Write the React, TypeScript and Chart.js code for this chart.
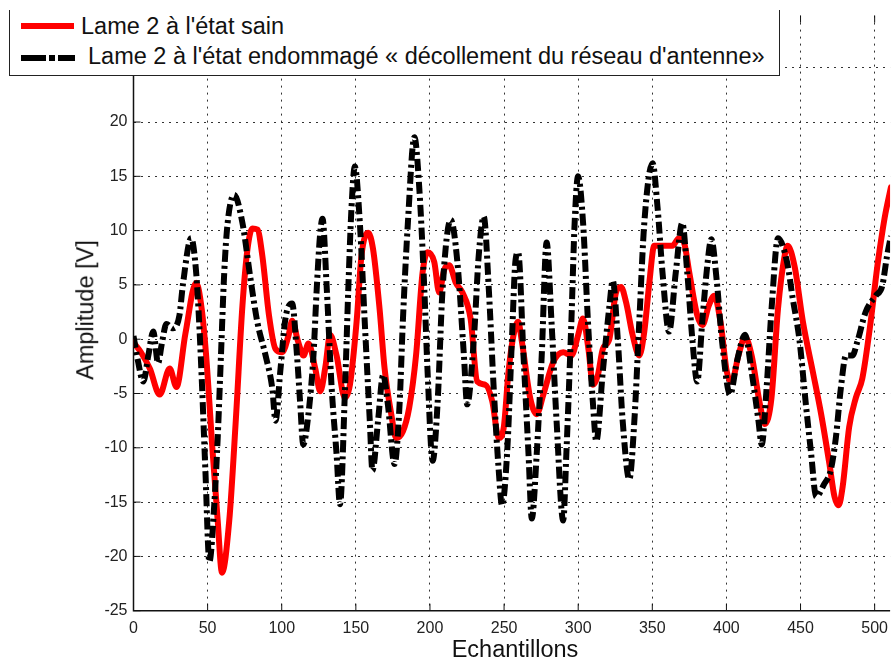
import React, { useEffect, useRef } from "react";
import { Chart, registerables } from "chart.js";

Chart.register(...registerables);

// ---- data ----
const redX = [0, 5, 11, 17.7, 24.4, 29, 35, 42.3, 46, 49, 53.5, 56.8, 59.7, 64.6, 69, 73.5, 76.9, 80.2, 83.6, 86.9, 91.4, 95.8, 100.3, 104.7, 107, 111, 114.7, 118, 122.6, 126, 129.5, 132.6, 137, 142.6, 146, 150.5, 153.8, 158.3, 161.6, 166, 169.4, 173.9, 177.2, 181.7, 186, 190.6, 195, 198.4, 202.9, 206.2, 209.6, 213, 217.4, 221.9, 227.4, 231.9, 237.4, 242, 246.4, 249.7, 253, 256.4, 259.5, 262, 267.6, 272, 276.5, 283.2, 289.9, 295.4, 300, 303.2, 306.9, 310, 313.3, 316.6, 321, 325.5, 328.9, 332.3, 336.7, 341.2, 344.6, 348, 351.3, 356.9, 363.5, 368, 371.4, 375, 380.3, 383.8, 388.1, 391.8, 396, 400.3, 403.6, 408.1, 412.6, 417, 422.6, 425.9, 430.4, 434.8, 439.3, 441.3, 446, 451.6, 458.3, 463.9, 469.5, 472.9, 475.7, 478.4, 482.8, 487.3, 491.7, 497.3, 501.8, 505.1, 507.3, 511];
const redY = [-0.3, -1.2, -2.7, -5.1, -2.7, -4.4, 0.5, 5.2, 2.8, -1.5, -10.6, -16.7, -21.5, -16.7, -7.5, 3.1, 8.3, 10.2, 10.1, 7.7, 2.2, -0.9, -1.2, 0.4, 1.7, -0.2, -1.5, -0.4, -2.7, -4.8, -2.5, 0.4, -1.5, -5.4, -4.2, 1.6, 7.7, 9.8, 8.3, 2.8, -2.7, -6.9, -9.1, -8.5, -6.3, -1.5, 6.1, 8.0, 7.1, 4.3, 6.4, 6.8, 5.2, 4.3, 1.9, -3.9, -4.2, -5.7, -9.1, -8.2, -3.0, 0.4, 1.6, -0.2, -5.4, -6.9, -5.1, -2.1, -1.2, -1.5, 0.4, 1.9, -0.9, -4.2, -3.3, -0.9, 0, 4.3, 4.8, 3.4, 0.4, -1.5, 0.7, 5.2, 8.6, 8.6, 8.6, 9.3, 8.9, 6.1, 2.2, 1.3, 3.1, 4.0, 1.6, -3.0, -3.9, -1.5, 0.2, -1.5, -6.0, -7.8, -5.4, 2.8, 7.7, 8.6, 6.7, 1.6, -3.0, -6.9, -11.5, -14.5, -15.3, -13.6, -8.1, -5.4, -3.6, 1.6, 6.7, 9.8, 11.6, 14.0];

const blackX = [0, 3, 6.6, 10, 13.3, 16.6, 19, 22.2, 26.7, 31, 33.3, 38.9, 42.3, 44.5, 46.3, 48.5, 51.2, 54.5, 56.8, 59, 61.2, 63.5, 67.9, 73.5, 79, 83.5, 89.1, 93.6, 95.8, 99, 102.5, 107, 110.3, 112.5, 114.5, 118, 121.4, 123.6, 125.8, 127.5, 130.4, 133.7, 137, 139.3, 142.7, 144.9, 147.1, 149.3, 152.7, 156, 159.4, 161.2, 165, 168.4, 171.6, 176.1, 179.5, 181.7, 185.1, 189.5, 192.9, 196.2, 198.4, 201.8, 205.1, 208.5, 214, 218.5, 222.9, 225.1, 229.6, 232.9, 236.3, 239.7, 243, 246.4, 248.6, 252, 255.3, 257.6, 259.5, 263.1, 266.5, 268.7, 272, 275.4, 278.7, 282, 285.4, 289.9, 292, 295.4, 297.6, 299.9, 303.3, 306.6, 310, 312.2, 316.6, 321.1, 323.3, 326.7, 330, 334.5, 337.9, 341.2, 344.6, 350.2, 353.5, 356.9, 361.3, 365.8, 370.2, 373.6, 377, 380.3, 383.7, 387.1, 389.8, 393.6, 396.9, 402.5, 407, 412.6, 417, 421.6, 423.8, 427.1, 430.6, 434.8, 440.9, 444.8, 449.2, 453.6, 457.2, 460.5, 466.1, 470.3, 473.8, 477.2, 480.7, 485, 488.4, 493.9, 500.7, 505.1, 508.4, 511];
const blackY = [0.3, -2.0, -3.9, -1.5, 0.7, -2.2, -0.5, 1.4, 1.0, 2.2, 5.0, 9.3, 6.1, 1.0, -4.5, -12.1, -20.5, -15.2, -9.1, -1.5, 6.1, 10.7, 13.3, 10.7, 5.5, 1.6, -1.5, -4.5, -7.5, -3.0, 1.9, 3.3, -1.5, -6.0, -9.7, -6.9, -1.5, 4.6, 9.5, 11.1, 4.6, -4.5, -10.6, -15.2, -4.5, 4.6, 12.2, 15.9, 10.7, 1.6, -7.5, -12.1, -7.5, -3.3, -6.0, -11.5, -6.0, 1.6, 10.7, 18.6, 13.7, 4.6, -3.0, -11.2, -6.0, 4.6, 11.0, 7.1, -1.5, -6.0, 0, 7.7, 11.3, 4.6, -4.5, -12.1, -15.3, -10.6, 0, 7.1, 8.0, -1.5, -10.6, -16.5, -10.6, -1.5, 8.9, 1.6, -7.5, -16.7, -10.6, 1.6, 10.7, 15.0, 10.7, 1.6, -6.0, -9.4, -3.0, 3.1, 5.4, 0, -7.5, -12.9, -7.5, 1.6, 10.7, 16.2, 12.2, 6.1, 0.7, 6.1, 10.7, 6.1, 0, -3.9, 1.6, 6.8, 9.2, 5.2, 0, -5.1, -2.1, 0.4, -3.0, -7.5, -9.7, -4.5, 3.1, 9.3, 7.1, 3.7, 0, -6.0, -10.6, -14.5, -13.3, -12.1, -9.1, -4.5, -1.5, -1.5, -0.2, 2.5, 4.0, 4.9, 7.7, 9.5];

const xTicks = [0, 50, 100, 150, 200, 250, 300, 350, 400, 450, 500];
const yTicks = [-25, -20, -15, -10, -5, 0, 5, 10, 15, 20, 25];

const redLabel = "Lame 2 à l'état sain";
const blackLabel = "Lame 2 à l'état endommagé « décollement du réseau d'antenne»";
const xTitle = "Echantillons";
const yTitle = "Amplitude [V]";

const FONT = "'Liberation Sans', Arial, Helvetica, sans-serif";

const axesPlugin = {
  id: "matlabAxes",
  beforeDatasetsDraw(chart: any) {
    const { ctx, chartArea, scales } = chart;
    const { left, right, top, bottom } = chartArea;
    ctx.save();
    ctx.strokeStyle = "#111";
    ctx.lineWidth = 1.5;
    ctx.beginPath();
    ctx.moveTo(left, top);
    ctx.lineTo(left, bottom);
    ctx.lineTo(right, bottom);
    ctx.stroke();
    ctx.lineWidth = 1;
    ctx.beginPath();
    for (const v of xTicks) {
      const px = scales.x.getPixelForValue(v);
      ctx.moveTo(px, bottom);
      ctx.lineTo(px, bottom - 7);
      ctx.moveTo(px, top);
      ctx.lineTo(px, top + 7);
    }
    for (const v of yTicks) {
      const py = scales.y.getPixelForValue(v);
      ctx.moveTo(left, py);
      ctx.lineTo(left + 7, py);
    }
    ctx.stroke();
    ctx.restore();
  },
};

export default function App() {
  const canvasRef = useRef<HTMLCanvasElement | null>(null);

  useEffect(() => {
    if (!canvasRef.current) return;
    const chart = new Chart(canvasRef.current, {
      type: "line",
      data: {
        datasets: [
          {
            label: redLabel,
            data: redX.map((x, i) => ({ x, y: redY[i] })),
            borderColor: "#ff0000",
            borderWidth: 6,
            pointRadius: 0,
            cubicInterpolationMode: "monotone",
            borderJoinStyle: "round",
            borderCapStyle: "round",
            fill: false,
            order: 2,
          },
          {
            label: blackLabel,
            data: blackX.map((x, i) => ({ x, y: blackY[i] })),
            borderColor: "#000000",
            borderWidth: 6,
            borderDash: [12, 4, 3, 4],
            pointRadius: 0,
            cubicInterpolationMode: "monotone",
            fill: false,
            order: 1,
          },
        ],
      },
      options: {
        animation: false,
        responsive: false,
        layout: { padding: { left: 0, top: 10, right: 0, bottom: 0 } },
        plugins: { legend: { display: false }, tooltip: { enabled: false } },
        scales: {
          x: {
            type: "linear",
            min: 0,
            max: 510.4,
            afterBuildTicks: (axis: any) => {
              axis.ticks = xTicks.map((v) => ({ value: v }));
            },
            afterFit: (s: any) => {
              s.height = 53.3;
            },
            grid: { color: "#333", lineWidth: 1, drawTicks: false },
            border: { display: false, dash: [2, 5] },
            ticks: {
              autoSkip: false,
              maxRotation: 0,
              padding: 8,
              color: "#222",
              font: { family: FONT, size: 16 },
            },
          },
          y: {
            type: "linear",
            min: -25,
            max: 29.8,
            afterBuildTicks: (axis: any) => {
              axis.ticks = yTicks.map((v) => ({ value: v }));
            },
            afterFit: (s: any) => {
              s.width = 133.5;
            },
            grid: { color: "#333", lineWidth: 1, drawTicks: false },
            border: { display: false, dash: [2, 5] },
            ticks: {
              padding: 6,
              color: "#222",
              font: { family: FONT, size: 16 },
            },
          },
        },
      },
      plugins: [axesPlugin],
    } as any);
    return () => chart.destroy();
  }, []);

  const text: React.CSSProperties = {
    position: "absolute",
    fontFamily: FONT,
    fontSize: 23.5,
    lineHeight: "23.5px",
    color: "#111",
    whiteSpace: "nowrap",
  };

  return (
    <div style={{ position: "absolute", left: 0, top: 0, width: 896, height: 664, background: "#fff", overflow: "hidden" }}>
      <canvas ref={canvasRef} width={896} height={664} style={{ position: "absolute", left: 0, top: 0, width: 896, height: 664 }} />
      {/* legend */}
      <div
        style={{
          position: "absolute",
          left: 9,
          top: 10,
          width: 771,
          height: 66,
          boxSizing: "border-box",
          background: "#fff",
          borderLeft: "1.5px solid #222",
          borderRight: "1.5px solid #222",
          borderBottom: "1.5px solid #222",
        }}
      >
        <div style={{ position: "absolute", left: 11, top: 13, width: 53, height: 6, background: "#ff0000" }} />
        <div style={{ ...text, left: 71, top: 5 }}>{redLabel}</div>
        <div style={{ position: "absolute", left: 11, top: 45, width: 25, height: 6, background: "#000" }} />
        <div style={{ position: "absolute", left: 39, top: 45, width: 6, height: 6, background: "#000" }} />
        <div style={{ position: "absolute", left: 48, top: 45, width: 17, height: 6, background: "#000" }} />
        <div style={{ ...text, left: 78, top: 35 }}>{blackLabel}</div>
      </div>
      {/* axis titles */}
      <div style={{ ...text, left: 415, width: 200, textAlign: "center", top: 638 }}>{xTitle}</div>
      <div
        style={{
          ...text,
          left: 86,
          top: 309.5,
          transform: "translate(-50%, -50%) rotate(-90deg)",
        }}
      >
        {yTitle}
      </div>
    </div>
  );
}
